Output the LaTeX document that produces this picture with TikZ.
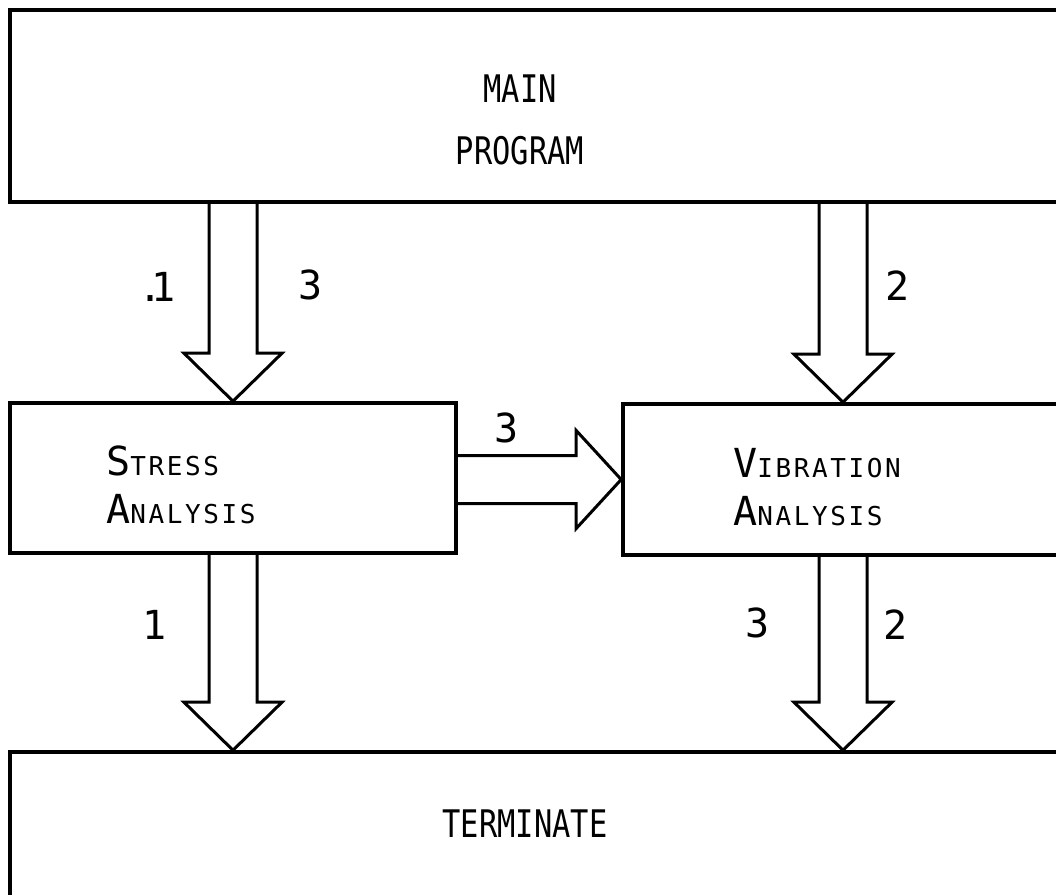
\documentclass[tikz,border=0pt]{standalone}
\usepackage{fontspec}
\usepackage{tikz}
\usetikzlibrary{calc, positioning}
\newfontfamily\boxfont[FakeStretch=0.8]{DejaVu Sans Mono}
\newfontfamily\capfont[LetterSpace=10]{DejaVu Sans Mono}
\newfontfamily\numfont{DejaVu Sans Mono}
\newcommand\bigsc[2]{{\fontsize{40}{48}\selectfont #1}#2}

\tikzset{
  module/.style={draw, line width=3.6pt, inner sep=0pt},
  blockarrow/.style={draw, line width=3pt, line join=miter},
  boxtext/.style={inner sep=0pt, font=\boxfont\fontsize{38}{62}\selectfont, align=center},
  sctext/.style={inner sep=0pt, font=\capfont\fontsize{26}{48}\selectfont, align=left},
  flownum/.style={inner sep=0pt, font=\numfont\fontsize{40}{40}\selectfont}
}

\newcommand\blockdown[2]{%
  \path[blockarrow] let \p1=(#1), \p2=(#2) in
    ({\x2-24pt},\y1) -- ({\x2-24pt},{\y2+48pt}) -- ({\x2-49pt},{\y2+48pt})
    -- (\x2,\y2) -- ({\x2+49pt},{\y2+48pt}) -- ({\x2+24pt},{\y2+48pt}) -- ({\x2+24pt},\y1);}
\newcommand\blockright[2]{%
  \path[blockarrow] let \p1=(#1), \p2=(#2) in
    (\x1,{\y2+24pt}) -- ({\x2-45pt},{\y2+24pt}) -- ({\x2-45pt},{\y2+49pt})
    -- (\x2,\y2) -- ({\x2-45pt},{\y2-49pt}) -- ({\x2-45pt},{\y2-24pt}) -- (\x1,{\y2-24pt});}

\begin{document}
\begin{tikzpicture}[x=1pt, y=-1pt]
  \fill[white] (0,0) rectangle (1056,894);
  \useasboundingbox (0,0) rectangle (1056,894);
  \clip (0,0) rectangle (1056,894);

  \node[module, minimum width=1060pt, minimum height=192pt] (main) at (540,106) {};
  \node[module, minimum width=446pt, minimum height=150pt] (stress) at (233,478) {};
  \node[module, minimum width=440pt, minimum height=151pt] (vib) at (843,479.5) {};
  \node[module, minimum width=1060pt, minimum height=168pt] (term) at (540,836) {};

  \node[boxtext] (maintext) at (520,120) {MAIN\\PROGRAM};
  \node[sctext, anchor=north west] (stresstext) at (106,446) {\bigsc{S}{TRESS}\\\bigsc{A}{NALYSIS}};
  \node[sctext, anchor=north west] (vibtext) at (733,448) {\bigsc{V}{IBRATION}\\\bigsc{A}{NALYSIS}};
  \node[boxtext, anchor=base] (termtext) at (525,837) {TERMINATE};

  \blockdown{main.south -| stress.north}{stress.north}
  \blockdown{main.south -| vib.north}{vib.north}
  \blockright{stress.east}{vib.west}
  \blockdown{stress.south}{stress.south |- term.north}
  \blockdown{vib.south}{vib.south |- term.north}

  \node[flownum] (n1a) at (157,287) {.\kern-12pt1};
  \node[flownum] (n3a) at (311,285) {3};
  \node[flownum] (n2a) at (898,286) {2};
  \node[flownum] (n3b) at (507,428) {3};
  \node[flownum] (n1b) at (155,625) {1};
  \node[flownum] (n3c) at (758,623) {3};
  \node[flownum] (n2b) at (896,625) {2};
\end{tikzpicture}
\end{document}
